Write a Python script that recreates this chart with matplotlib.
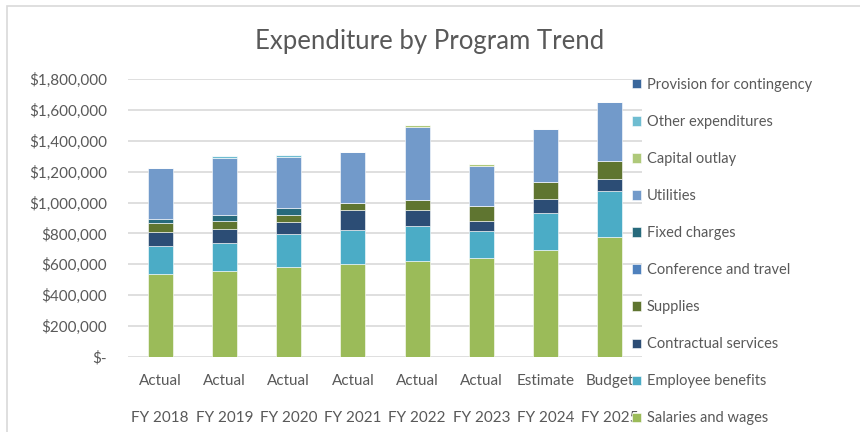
import numpy as np
import matplotlib.pyplot as plt
from matplotlib.ticker import FuncFormatter
from matplotlib.patches import Rectangle

plt.rcParams['font.family'] = ['Lato', 'DejaVu Sans']

stages = ["Actual", "Actual", "Actual", "Actual", "Actual", "Actual", "Estimate", "Budget"]
years = ["FY 2018", "FY 2019", "FY 2020", "FY 2021", "FY 2022", "FY 2023", "FY 2024", "FY 2025"]

salaries = [535000, 556000, 582000, 603000, 621000, 642000, 690000, 779000]
benefits = [183000, 182000, 214000, 221000, 225000, 176000, 242000, 298000]
contractual = [89000, 93000, 76000, 126000, 106000, 64000, 89000, 78000]
supplies = [59000, 50000, 49000, 47000, 67000, 98000, 111000, 117000]
conference = [0, 0, 0, 0, 0, 0, 0, 0]
fixed = [26000, 40000, 46000, 0, 0, 0, 0, 0]
utilities = [331000, 366000, 331000, 331000, 473000, 259000, 344000, 379000]
capital = [0, 0, 0, 0, 13000, 13000, 0, 0]
other = [0, 15000, 11000, 0, 0, 0, 0, 0]
provision = [0, 0, 0, 0, 0, 0, 0, 0]

series = [
    ("Salaries and wages", salaries, "#9BBB59"),
    ("Employee benefits", benefits, "#4BACC6"),
    ("Contractual services", contractual, "#2C4D75"),
    ("Supplies", supplies, "#5F7530"),
    ("Conference and travel", conference, "#4F81BD"),
    ("Fixed charges", fixed, "#276A7C"),
    ("Utilities", utilities, "#729ACA"),
    ("Capital outlay", capital, "#AFC97A"),
    ("Other expenditures", other, "#6FBDD1"),
    ("Provision for contingency", provision, "#3A679C"),
]

text_color = "#595959"

fig = plt.figure(figsize=(8.6, 4.32), dpi=100)
ax = fig.add_axes([128 / 860, 1 - 357 / 432, 514 / 860, 278 / 432])

x = np.arange(len(years))
bottom = np.zeros(len(years))
handles = []
for name, vals, color in series:
    vals = np.array(vals, dtype=float)
    b = ax.bar(x, vals, 0.39, bottom=bottom, color=color, edgecolor="#ffffff",
               linewidth=0.4, label=name, zorder=3)
    handles.append(b)
    bottom += vals

ax.set_xlim(-0.5, len(years) - 0.5)
ax.set_ylim(0, 1800000)
ax.set_yticks(np.arange(0, 1800001, 200000))
ax.yaxis.set_major_formatter(FuncFormatter(lambda v, p: "$-" if v == 0 else f"${v:,.0f}"))
ax.set_xticks(x)
ax.set_xticklabels([f"{s}\n{y}" for s, y in zip(stages, years)], linespacing=3.1)
ax.grid(axis="y", color="#D9D9D9", linewidth=1.2, zorder=0)
for s in ax.spines.values():
    s.set_visible(False)
ax.tick_params(axis="both", length=0, colors=text_color, labelsize=11)
ax.tick_params(axis="y", pad=15)
ax.tick_params(axis="x", pad=12.5)

fig.text(0.5, 1 - 42 / 432, "Expenditure by Program Trend", ha="center", va="center",
         fontsize=18.5, color=text_color)

leg = fig.legend(handles[::-1], [s[0] for s in series][::-1], loc="upper left",
                 bbox_to_anchor=(632 / 860, 1 - 78 / 432), frameon=False,
                 fontsize=10.5, handlelength=0.6, handleheight=0.6, handletextpad=0.4,
                 labelspacing=1.58, borderpad=0, borderaxespad=0)
for t in leg.get_texts():
    t.set_color(text_color)

fig.patches.append(Rectangle((7 / 860, -0.1), 1.2, 1 - 6 / 432 + 0.1, transform=fig.transFigure,
                             fill=False, edgecolor="#D9D9D9", linewidth=1.2))

fig.savefig("out.png", dpi=100)
